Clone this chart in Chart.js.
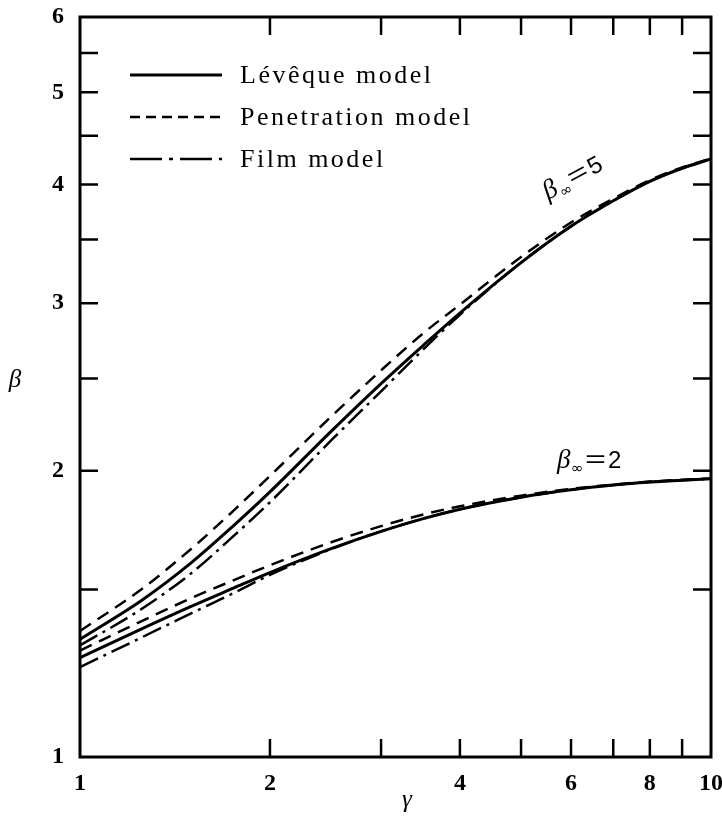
<!DOCTYPE html>
<html>
<head>
<meta charset="utf-8">
<script src="https://cdn.jsdelivr.net/npm/chart.js@4.4.0/dist/chart.umd.min.js"></script>
<style>
html, body { margin: 0; padding: 0; background: #fff; }
</style>
</head>
<body>
<canvas id="myChart" width="722" height="817"></canvas>
<script>
const gammaValues = [1, 1.25, 1.5, 1.75, 2, 2.5, 3, 3.5, 4, 5, 6, 7, 8, 9, 10];

// beta_inf = 5
const leveque5 = [1.33, 1.46, 1.60, 1.75, 1.90, 2.20, 2.47, 2.71, 2.93, 3.31, 3.615, 3.845, 4.03, 4.16, 4.255];
const penetration5 = [1.357, 1.50, 1.655, 1.815, 1.975, 2.28, 2.55, 2.79, 2.99, 3.356, 3.648, 3.864, 4.042, 4.168, 4.26];
const film5 = [1.31, 1.43, 1.56, 1.707, 1.853, 2.152, 2.424, 2.683, 2.918, 3.31, 3.615, 3.845, 4.03, 4.16, 4.255];

// beta_inf = 2
const leveque2 = [1.272, 1.363, 1.44, 1.505, 1.563, 1.656, 1.727, 1.781, 1.822, 1.876, 1.91, 1.932, 1.946, 1.955, 1.961];
const penetration2 = [1.294, 1.389, 1.469, 1.534, 1.591, 1.682, 1.749, 1.799, 1.835, 1.883, 1.914, 1.934, 1.948, 1.957, 1.963];
const film2 = [1.243, 1.335, 1.416, 1.487, 1.554, 1.654, 1.727, 1.781, 1.822, 1.876, 1.91, 1.932, 1.946, 1.955, 1.961];

const legendLabels = ['Lévêque model', 'Penetration model', 'Film model'];
const xTickLabels = [1, 2, 4, 6, 8, 10];
const xTickMarks = [2, 3, 4, 5, 6, 7, 8, 9];
const yTickLabels = [1, 2, 3, 4, 5, 6];
const yTickMarks = [1.5, 2, 2.5, 3, 3.5, 4, 4.5, 5, 5.5];

const dashPen = [13, 8];
const dashFilm = [20, 6, 3, 6];

function pts(arr) {
    return gammaValues.map((g, i) => ({ x: g, y: arr[i] }));
}

function ds(label, arr, dash, w) {
    return {
        label: label,
        data: pts(arr),
        borderColor: '#000',
        borderWidth: w,
        borderDash: dash,
        pointRadius: 0,
        fill: false,
        cubicInterpolationMode: 'monotone'
    };
}

const data = {
    datasets: [
        ds(legendLabels[0], leveque5, [], 3),
        ds(legendLabels[1], penetration5, dashPen, 2.5),
        ds(legendLabels[2], film5, dashFilm, 2.5),
        ds(legendLabels[0], leveque2, [], 3),
        ds(legendLabels[1], penetration2, dashPen, 2.5),
        ds(legendLabels[2], film2, dashFilm, 2.5)
    ]
};

/* cadre, petits traits vers l'interieur, legende et textes */
const decor = {
    id: 'decor',
    afterDatasetsDraw(chart) {
        const { ctx, chartArea: a, scales: { x, y } } = chart;
        ctx.save();
        ctx.strokeStyle = '#000';
        ctx.fillStyle = '#000';
        ctx.lineCap = 'butt';

        ctx.lineWidth = 2.5;
        ctx.beginPath();
        yTickMarks.forEach(v => {
            const py = y.getPixelForValue(v);
            ctx.moveTo(a.left, py); ctx.lineTo(a.left + 18, py);
            ctx.moveTo(a.right, py); ctx.lineTo(a.right - 18, py);
        });
        xTickMarks.forEach(v => {
            const px = x.getPixelForValue(v);
            ctx.moveTo(px, a.bottom); ctx.lineTo(px, a.bottom - 18);
            ctx.moveTo(px, a.top); ctx.lineTo(px, a.top + 18);
        });
        ctx.stroke();

        ctx.lineWidth = 3;
        ctx.strokeRect(a.left, a.top, a.right - a.left, a.bottom - a.top);

        // legende
        const rows = [75, 117, 159];
        const dashes = [[], [10, 6], [32, 7, 4, 7]];
        const widths = [3, 2.5, 2.5];
        ctx.font = '26px "Liberation Serif"';
        ctx.textBaseline = 'middle';
        ctx.letterSpacing = '2.5px';
        rows.forEach((ry, i) => {
            ctx.beginPath();
            ctx.setLineDash(dashes[i]);
            ctx.lineWidth = widths[i];
            ctx.moveTo(130, ry);
            ctx.lineTo(222, ry);
            ctx.stroke();
            ctx.fillText(legendLabels[i], 240, ry + 1);
        });
        ctx.setLineDash([]);
        ctx.letterSpacing = '0px';

        // titres des axes
        ctx.font = 'italic 25px "Liberation Serif"';
        ctx.textAlign = 'center';
        ctx.fillText('β', 15, 380);
        ctx.fillText('γ', 407, 800);

        // etiquettes des courbes
        function betaLabel(tx, ty, rot, val) {
            ctx.save();
            ctx.translate(tx, ty);
            ctx.rotate(rot);
            ctx.textAlign = 'left';
            ctx.textBaseline = 'alphabetic';
            ctx.font = 'italic 27px "Liberation Serif"';
            ctx.fillText('β', 0, 0);
            ctx.font = '15px "DejaVu Sans"';
            ctx.fillText('∞', 14, 5);
            ctx.font = '24px "Liberation Sans"';
            ctx.save();
            ctx.scale(1.5, 1);
            ctx.fillText('=', 28 / 1.5, -1);
            ctx.restore();
            ctx.fillText(val, 51, 0);
            ctx.restore();
        }
        betaLabel(548, 200, -0.5, '5');
        betaLabel(557, 468, 0, '2');

        ctx.restore();
    }
};

const config = {
    type: 'line',
    data,
    options: {
        responsive: false,
        animation: false,
        layout: { padding: { left: 52, right: 11, top: 17, bottom: 20 } },
        plugins: { legend: { display: false }, tooltip: { enabled: false } },
        scales: {
            x: {
                type: 'logarithmic',
                min: 1,
                max: 10,
                afterBuildTicks: s => { s.ticks = xTickLabels.map(v => ({ value: v })); },
                afterFit: s => { s.height = 40; s.paddingLeft = 0; s.paddingRight = 0; },
                ticks: {
                    callback: v => String(v),
                    font: { family: 'Liberation Serif', size: 24, weight: 'bold' },
                    color: '#000',
                    padding: 12,
                    maxRotation: 0,
                    autoSkip: false
                },
                grid: { display: false, drawTicks: false },
                border: { display: false }
            },
            y: {
                type: 'logarithmic',
                min: 1,
                max: 6,
                afterBuildTicks: s => { s.ticks = yTickLabels.map(v => ({ value: v })); },
                afterFit: s => { s.width = 28; s.paddingTop = 0; s.paddingBottom = 0; },
                ticks: {
                    callback: v => String(v),
                    font: { family: 'Liberation Serif', size: 24, weight: 'bold' },
                    color: '#000',
                    padding: 16,
                    autoSkip: false
                },
                grid: { display: false, drawTicks: false },
                border: { display: false }
            }
        }
    },
    plugins: [decor]
};

new Chart(document.getElementById('myChart').getContext('2d'), config);
</script>
</body>
</html>
